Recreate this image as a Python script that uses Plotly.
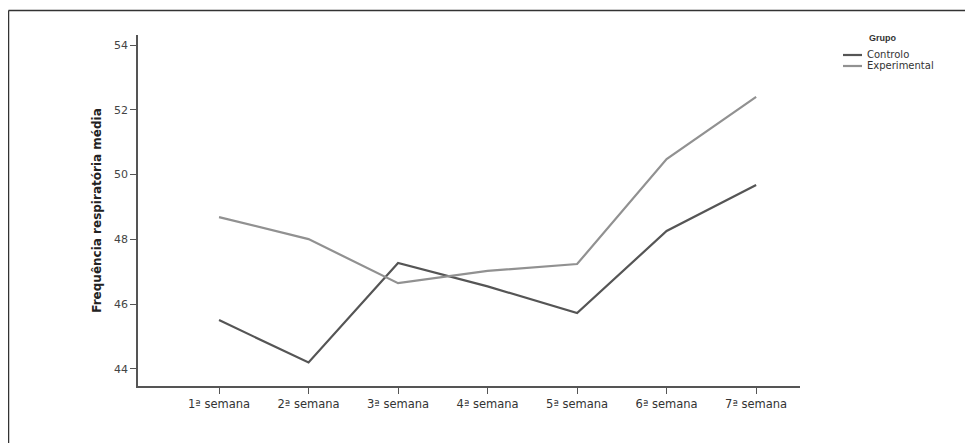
import plotly.graph_objects as go

weeks = ["1ª semana", "2ª semana", "3ª semana", "4ª semana", "5ª semana", "6ª semana", "7ª semana"]
controlo = [45.51, 44.20, 47.27, 46.55, 45.73, 48.26, 49.68]
experimental = [48.69, 48.01, 46.65, 47.03, 47.24, 50.48, 52.40]
y_ticks = [44, 46, 48, 50, 52, 54]
series_names = ["Controlo", "Experimental"]
series_colors = ["#555555", "#919191"]

x_idx = list(range(len(weeks)))

# plot area in screen pixels (page has an 8px body margin)
PL, PR, PT, PB = 138, 800, 35, 386
W, H = PR - PL, PB - PT
FIG_W, FIG_H = 965, 435


def px(xs):
    return (xs - PL) / W


def py(ys):
    return (PB - ys) / H


fig = go.Figure()
for name, vals, col in zip(series_names, [controlo, experimental], series_colors):
    fig.add_trace(go.Scatter(x=x_idx, y=vals, mode="lines", name=name,
                             line=dict(color=col, width=2.2), showlegend=False))

fig.update_layout(
    width=FIG_W, height=FIG_H,
    margin=dict(l=PL - 8, r=FIG_W - (PR - 8), t=PT - 8, b=FIG_H - (PB - 8)),
    paper_bgcolor="white", plot_bgcolor="white",
    font=dict(family="DejaVu Sans, sans-serif", size=11, color="#333333"),
    xaxis=dict(range=[-0.905, 6.49], tickvals=x_idx, ticktext=weeks,
               showgrid=False, zeroline=False, showline=True, linecolor="#555555",
               linewidth=1.5, ticks="outside", ticklen=6, tickcolor="#555555",
               tickfont=dict(size=11.5, color="#333333")),
    yaxis=dict(range=[43.475, 54.31], tickvals=y_ticks, showgrid=False, zeroline=False,
               showline=True, linecolor="#555555", linewidth=1.5, ticks="outside",
               ticklen=6, tickcolor="#555555", tickfont=dict(size=11, color="#444444"),
               title=dict(text="<b>Frequência respiratória média</b>",
                          font=dict(size=12, color="#222222"), standoff=10)),
)

# legend (manual, to keep compact spacing)
fig.add_annotation(text="<b>Grupo</b>", xref="paper", yref="paper",
                   x=px(882), y=py(38), xanchor="center", yanchor="middle",
                   showarrow=False, font=dict(family="Liberation Sans, Arial", size=9, color="#333333"))
for i, (name, col) in enumerate(zip(series_names, series_colors)):
    yy = 55 + 11 * i
    fig.add_shape(type="line", xref="paper", yref="paper",
                  x0=px(843), x1=px(862), y0=py(yy), y1=py(yy),
                  line=dict(color=col, width=2.2))
    fig.add_annotation(text=name, xref="paper", yref="paper",
                       x=px(865), y=py(yy), xanchor="left", yanchor="middle",
                       showarrow=False, font=dict(size=10, color="#333333"))

# outer frame: only top and left edges are inside the picture
fig.add_shape(type="line", xref="paper", yref="paper",
              x0=px(8.5), x1=px(1000), y0=py(10.5), y1=py(10.5),
              line=dict(color="#333333", width=1.5), layer="below")
fig.add_shape(type="line", xref="paper", yref="paper",
              x0=px(8.5), x1=px(8.5), y0=py(10.5), y1=py(480),
              line=dict(color="#333333", width=1.5), layer="below")

fig.write_html("out.html")
